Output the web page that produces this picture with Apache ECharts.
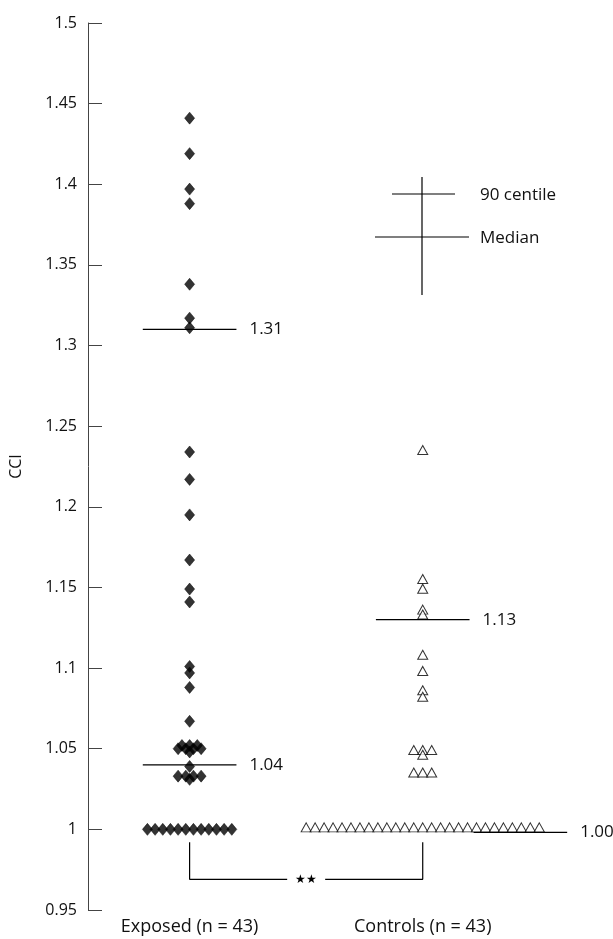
<!DOCTYPE html>
<html><head><meta charset="utf-8">
<script src="https://cdn.jsdelivr.net/npm/echarts@6/dist/echarts.min.js"></script>
<style>html,body{margin:0;padding:0;background:#fff}#c{width:613px;height:939px}</style>
</head><body><div id="c"></div>
<script>
// ---------- data ----------
const categories = ['Exposed (n = 43)', 'Controls (n = 43)'];
const exposed = [1.441, 1.419, 1.397, 1.388, 1.338, 1.317, 1.311,
  1.234, 1.217, 1.195, 1.167, 1.149, 1.141, 1.101, 1.097, 1.088, 1.067,
  1.052, 1.052, 1.052, 1.050, 1.050, 1.050, 1.050, 1.048, 1.039,
  1.033, 1.033, 1.033, 1.033, 1.031,
  1, 1, 1, 1, 1, 1, 1, 1, 1, 1, 1, 1];
const controls = [1.234, 1.154, 1.148, 1.135, 1.132, 1.107, 1.097, 1.085, 1.081,
  1.048, 1.048, 1.048, 1.045, 1.034, 1.034, 1.034,
  1, 1, 1, 1, 1, 1, 1, 1, 1, 1, 1, 1, 1, 1, 1, 1, 1, 1, 1, 1, 1, 1, 1, 1, 1, 1, 1];
const exposedLines = [1.31, 1.04];   // 90 centile, median
const controlLines = [1.13, 1.00];   // 90 centile, median
const yTicks = { min: 0.95, max: 1.5, interval: 0.05 };
const bracketY = [0.992, 0.969];
const sigLabel = '★★';

// ---------- layout ----------
const FONT = '"Open Sans", Lato, sans-serif';
const GRID = { left: 86, right: 0, top: 23, bottom: 29 };
const CAT_PX = [188, 422];
const PX = CAT_PX[1] - CAT_PX[0];          // px per x unit
const PY = (939 - GRID.top - GRID.bottom) / (yTicks.max - yTicks.min); // px per y unit
const xMin = 1 - (CAT_PX[0] - GRID.left) / PX;
const xMax = 2 + (613 - GRID.right - CAT_PX[1]) / PX;
const HALF_LINE = 47;

function swarm(vals, cat, spacing) {
  const counts = {}, idx = {};
  vals.forEach(v => counts[v] = (counts[v] || 0) + 1);
  return vals.map(v => {
    idx[v] = idx[v] === undefined ? 0 : idx[v] + 1;
    const n = counts[v];
    return [cat + (idx[v] - (n - 1) / 2) * spacing / PX, v];
  });
}

function medianLine(v, cat, shiftPx, dropPx) {
  const c = cat + shiftPx / PX;
  const y = v - (dropPx || 0) / PY;
  return {
    type: 'line', silent: true, symbol: 'none', z: 1,
    data: [[c - HALF_LINE / PX, y], [c + HALF_LINE / PX, y]],
    lineStyle: { color: '#000', width: 1.2 },
    endLabel: { show: true, formatter: () => v.toFixed(2), distance: 13,
      fontSize: 17, fontFamily: FONT, color: '#111' }
  };
}

const chart = echarts.init(document.getElementById('c'), null, { renderer: 'canvas' });
const series = [
  { type: 'scatter', symbol: 'diamond', symbolSize: [10, 12], z: 3,
    itemStyle: { color: '#000', borderColor: '#000', borderWidth: 0.6 }, data: swarm(exposed, 1, 7.7) },
  { type: 'scatter', symbol: 'triangle', symbolSize: [10, 9], symbolOffset: [0, -2], z: 3,
    itemStyle: { color: '#fff', borderColor: '#000', borderWidth: 1 }, data: swarm(controls, 2, 9.0) },
  medianLine(exposedLines[0], 1, 0),
  medianLine(exposedLines[1], 1, 0),
  medianLine(controlLines[0], 2, 0),
  medianLine(controlLines[1], 2, 98, 3),
  { type: 'line', silent: true, symbol: 'none', z: 1,
    data: [[1, bracketY[0]], [1, bracketY[1]], [2, bracketY[1]], [2, bracketY[0]]],
    lineStyle: { color: '#000', width: 1.2 } }
];

chart.setOption({
  animation: false,
  grid: GRID,
  xAxis: {
    type: 'value', min: xMin, max: xMax,
    axisLine: { show: false }, axisTick: { show: false }, splitLine: { show: false },
    axisLabel: { customValues: [1, 2], formatter: v => categories[Math.round(v) - 1],
      fontSize: 18, fontFamily: FONT, color: '#111', margin: 8 }
  },
  yAxis: {
    type: 'value', min: yTicks.min, max: yTicks.max, interval: yTicks.interval,
    name: 'CCI', nameLocation: 'middle', nameGap: 64,
    nameTextStyle: { fontSize: 16, fontFamily: FONT, color: '#111' },
    axisLine: { show: true, lineStyle: { color: '#444', width: 1 } },
    axisTick: { show: true, inside: true, length: 14, lineStyle: { color: '#444', width: 1 } },
    axisLabel: { fontSize: 16, fontFamily: FONT, color: '#111', margin: 11 },
    splitLine: { show: false }
  },
  series
});

// significance stars and legend key
const mid = chart.convertToPixel({ gridIndex: 0 }, [1.5, bracketY[1]]);
chart.setOption({
  graphic: [
    { type: 'text', x: mid[0], y: mid[1], z: 10,
      style: { text: sigLabel, fontSize: 12, fill: '#000', align: 'center', verticalAlign: 'middle',
        backgroundColor: '#fff', padding: [2, 8] } },
    { type: 'line', shape: { x1: 422, y1: 177, x2: 422, y2: 295 }, style: { stroke: '#000', lineWidth: 1.2 } },
    { type: 'line', shape: { x1: 392, y1: 194, x2: 455, y2: 194 }, style: { stroke: '#000', lineWidth: 1.2 } },
    { type: 'line', shape: { x1: 375, y1: 237, x2: 469, y2: 237 }, style: { stroke: '#000', lineWidth: 1.2 } },
    { type: 'text', x: 480, y: 195, style: { text: '90 centile', fontSize: 17, fontFamily: FONT, fill: '#111', verticalAlign: 'middle' } },
    { type: 'text', x: 480, y: 238, style: { text: 'Median', fontSize: 17, fontFamily: FONT, fill: '#111', verticalAlign: 'middle' } }
  ]
});
</script>
</body></html>
